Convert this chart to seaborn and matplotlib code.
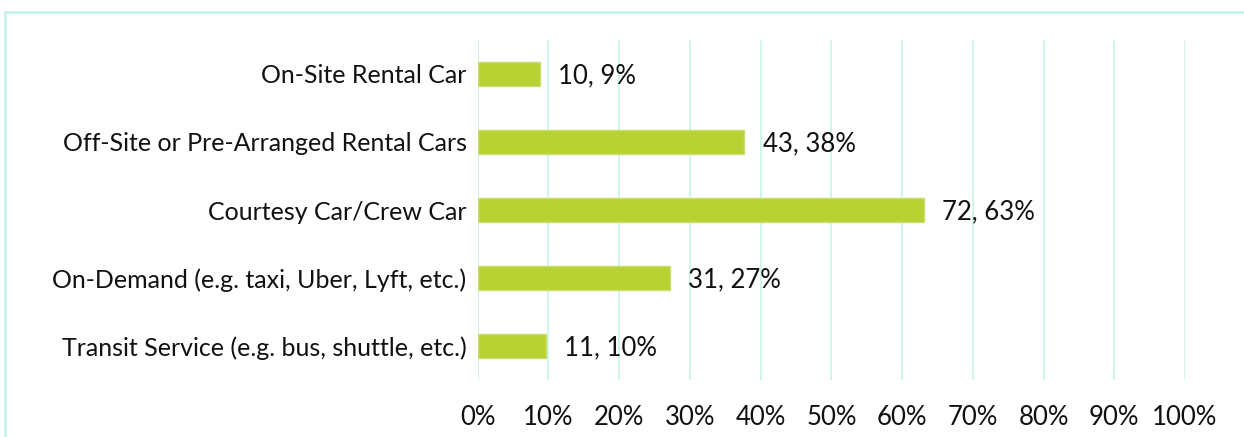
import matplotlib.pyplot as plt
from matplotlib.lines import Line2D
import pandas as pd
import seaborn as sns

# ----- datos -----
categorias = [
    "On-Site Rental Car",
    "Off-Site or Pre-Arranged Rental Cars",
    "Courtesy Car/Crew Car",
    "On-Demand (e.g. taxi, Uber, Lyft, etc.)",
    "Transit Service (e.g. bus, shuttle, etc.)",
]
conteos = [10, 43, 72, 31, 11]
total_respuestas = 114
ticks_pct = [0, 10, 20, 30, 40, 50, 60, 70, 80, 90, 100]

df = pd.DataFrame({"categoria": categorias, "conteo": conteos})
df["pct"] = df["conteo"] / total_respuestas * 100

sns.set_theme(style="white")
plt.rcParams["font.family"] = ["Lato", "DejaVu Sans"]

fig = plt.figure(figsize=(12.44, 4.37), dpi=100)
ax = fig.add_axes([0.384, 0.1304, 0.5686, 0.7781])

sns.barplot(
    x="pct",
    y="categoria",
    data=df,
    orient="h",
    color="#b8d234",
    saturation=1,
    width=0.353,
    edgecolor="#c9de6e",
    linewidth=1,
    ax=ax,
)

for i, (c, p) in enumerate(zip(df["conteo"], df["pct"])):
    ax.annotate(
        f"{c}, {p:.0f}%",
        xy=(p, i),
        xytext=(13, -1),
        textcoords="offset points",
        va="center",
        ha="left",
        fontsize=18.5,
        color="#111111",
    )

ax.set_xlim(0, 100)
ax.set_xticks(ticks_pct)
ax.set_xticklabels([f"{t}%" for t in ticks_pct], fontsize=18.5)
ax.tick_params(axis="x", length=0, pad=18, colors="#111111")
ax.tick_params(axis="y", length=0, pad=8, labelsize=18, colors="#111111")
ax.set_xlabel("")
ax.set_ylabel("")
ax.xaxis.grid(True, color="#c8f2ea", linewidth=1.2)
ax.yaxis.grid(False)
ax.set_axisbelow(True)
for s in ax.spines.values():
    s.set_visible(False)

# marco exterior (solo arriba e izquierda visibles)
x0 = 4.5 / 1244
y0 = 1 - 11.5 / 437
fig.lines.append(Line2D([x0, 1.0], [y0, y0], transform=fig.transFigure,
                        color="#c8f2ea", linewidth=2))
fig.lines.append(Line2D([x0, x0], [0.0, y0], transform=fig.transFigure,
                        color="#c8f2ea", linewidth=2))

fig.savefig("out.png", dpi=100)
